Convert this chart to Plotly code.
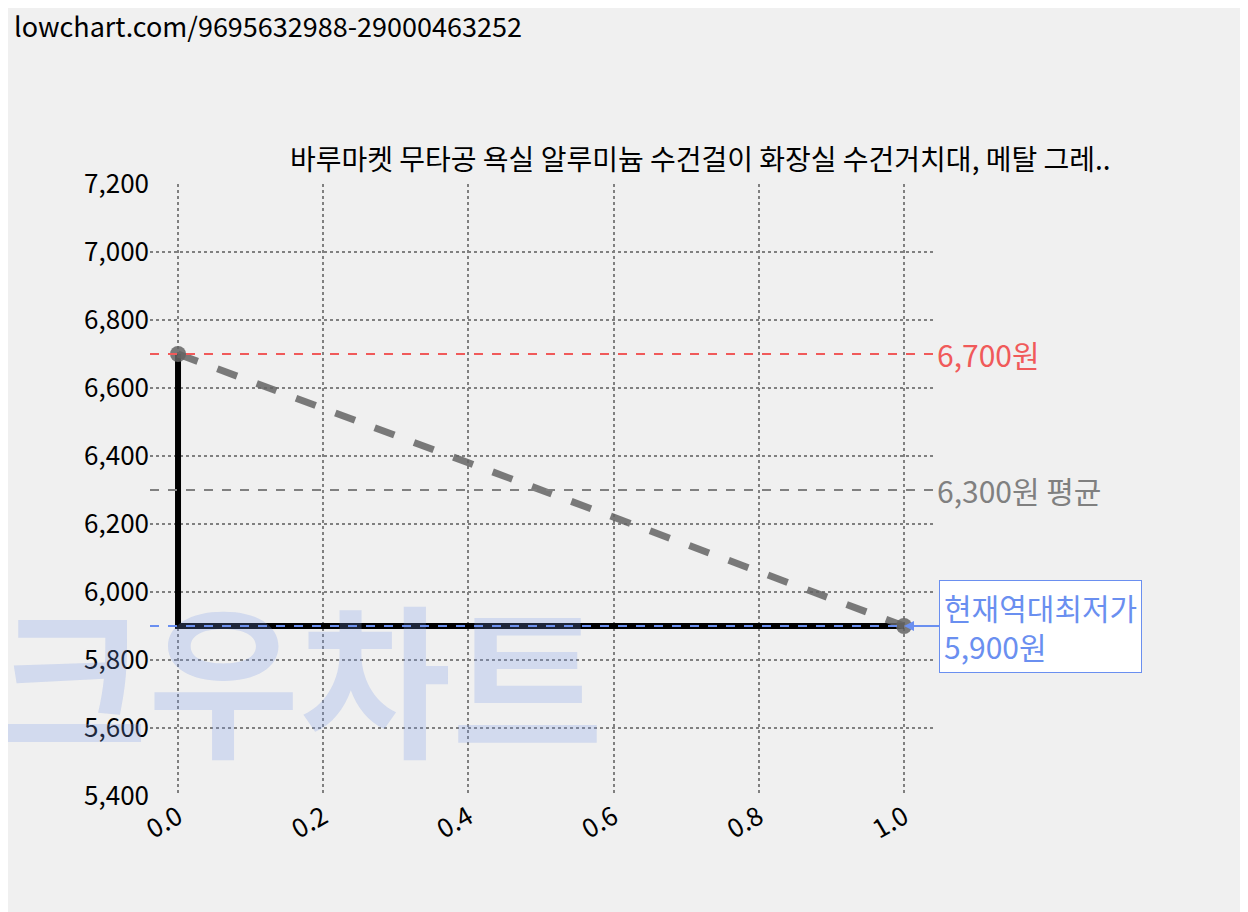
import plotly.graph_objects as go

# 데이터
x_vals = [0, 1]
prices = [6700, 5900]
step_x = [0, 0, 1]
step_y = [6700, 5900, 5900]
max_price = 6700
avg_price = 6300
min_price = 5900
title = "바루마켓 무타공 욕실 알루미늄 수건걸이 화장실 수건거치대, 메탈 그레.."

font = "Noto Sans CJK KR"
fig = go.Figure()

fig.add_trace(go.Scatter(x=step_x, y=step_y, mode="lines",
                         line=dict(color="black", width=6), hoverinfo="skip"))
fig.add_trace(go.Scatter(x=x_vals, y=prices, mode="lines+markers",
                         line=dict(color="rgba(100,100,100,0.85)", width=7, dash="dash"),
                         marker=dict(size=16, color="rgba(100,100,100,0.85)")))

fig.add_hline(y=max_price, line=dict(color="#f05a5a", width=2, dash="dash"))
fig.add_hline(y=avg_price, line=dict(color="gray", width=2, dash="dash"))
fig.add_hline(y=min_price, line=dict(color="#6a8ff0", width=2, dash="dash"))

fig.add_annotation(x=1, y=max_price, xref="paper", yref="y", xanchor="left",
                   text=f"{max_price:,}원", showarrow=False,
                   font=dict(size=30, color="#f05a5a", family=font))
fig.add_annotation(x=1, y=avg_price, xref="paper", yref="y", xanchor="left",
                   text=f"{avg_price:,}원 평균", showarrow=False,
                   font=dict(size=30, color="gray", family=font))
fig.add_annotation(x=1, y=min_price, xref="x", yref="y", ax=35, ay=0,
                   xanchor="left", align="left",
                   text=f"현재역대최저가<br>{min_price:,}원", showarrow=True,
                   arrowhead=2, arrowcolor="#6a8ff0", arrowwidth=2,
                   bgcolor="white", bordercolor="#6a8ff0", borderwidth=1, borderpad=4,
                   font=dict(size=30, color="#6a8ff0", family=font))

# 워터마크
fig.add_annotation(x=0.19, y=0.2, xref="paper", yref="paper", text="<b>크우차트</b>",
                   showarrow=False, xanchor="center", yanchor="middle",
                   font=dict(size=165, color="rgba(120,150,230,0.25)", family=font))

fig.add_annotation(x=0, y=1.0, xref="paper", yref="paper", yanchor="top",
                   xanchor="left", xshift=-138, yshift=180,
                   text="lowchart.com/9695632988-29000463252",
                   showarrow=False, font=dict(size=27, color="black", family=font))
fig.add_annotation(x=0, y=1.0, xref="paper", yref="paper", yanchor="bottom",
                   xanchor="right", xshift=963, yshift=4, text=title,
                   showarrow=False, font=dict(size=28, color="black", family=font))

grid = dict(showgrid=True, gridcolor="gray", griddash="dot", gridwidth=2,
            zeroline=False, showline=False)
fig.update_xaxes(range=[-0.0386, 1.0427], tickvals=[0, 0.2, 0.4, 0.6, 0.8, 1.0],
                 ticktext=["0.0", "0.2", "0.4", "0.6", "0.8", "1.0"], tickangle=-30,
                 tickfont=dict(size=26, family=font), **grid)
fig.update_yaxes(range=[5400, 7200], dtick=200, tickformat=",",
                 tickfont=dict(size=26, family=font), **grid)

fig.update_layout(width=1248, height=912, showlegend=False,
                  paper_bgcolor="#f0f0f0", plot_bgcolor="#f0f0f0",
                  margin=dict(l=142, r=321, t=176, b=124),
                  font=dict(family=font, color="black"))

fig.write_html("out.html")
